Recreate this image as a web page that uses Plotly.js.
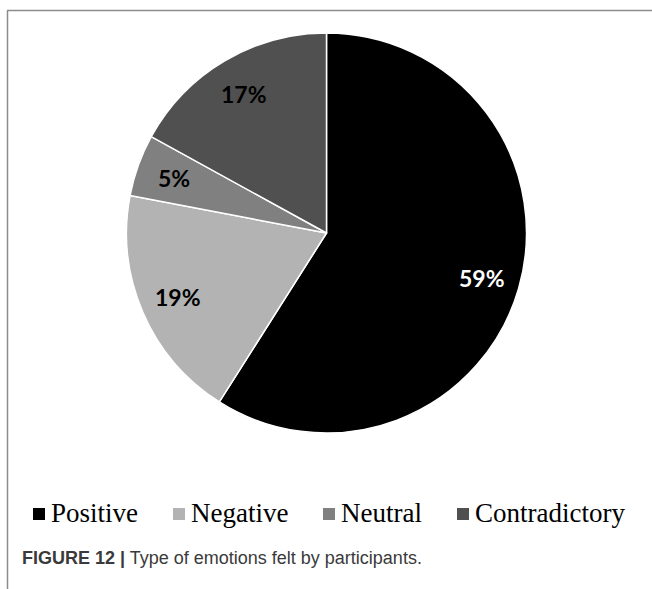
<!DOCTYPE html>
<html>
<head>
<meta charset="utf-8">
<script src="https://cdn.plot.ly/plotly-3.0.1.min.js"></script>
<style>
  html, body { margin: 0; padding: 0; background: #ffffff; }
  #chart { width: 652px; height: 589px; }
</style>
</head>
<body>
<div id="chart"></div>
<script>
// Types of emotion reported by participants (share of responses, %)
const emotions = ["Positive", "Negative", "Neutral", "Contradictory"];
const shares = [59, 19, 5, 17];
const sliceColors = ["#000000", "#b3b3b3", "#808080", "#505050"];
const labelColors = ["#ffffff", "#000000", "#000000", "#000000"];
const captionBold = "FIGURE 12 |";
const captionText = "Type of emotions felt by participants.";

const W = 652, H = 589;

// pie placement in pixels
const cx = 326.5, cy = 233, R = 200;

// legend row: left edge of each swatch, in pixels
const legendSwatchX = [33, 173, 323, 457];
const legendY = 514, swatch = 12;

const toPX = x => x / W;
const toPY = y => 1 - y / H;

const pie = {
  type: "pie",
  labels: emotions,
  values: shares,
  sort: false,
  direction: "clockwise",
  rotation: 0,
  marker: { colors: sliceColors, line: { color: "#ffffff", width: 1.5 } },
  textinfo: "none",
  hoverinfo: "label+percent",
  showlegend: false,
  domain: {
    x: [toPX(cx - R), toPX(cx + R)],
    y: [toPY(cy + R), toPY(cy - R)]
  }
};

// percentage labels on each slice's mid-angle, at ~81% of the radius
const total = shares.reduce((a, b) => a + b, 0);
let cum = 0;
const sliceLabels = shares.map((v, i) => {
  const mid = (cum + v / 2) / total * 2 * Math.PI;
  cum += v;
  return {
    xref: "paper", yref: "paper",
    x: toPX(cx + 0.81 * R * Math.sin(mid)),
    y: toPY(cy - 0.81 * R * Math.cos(mid)),
    xanchor: "center", yanchor: "middle", showarrow: false,
    text: v + "%",
    font: { family: "Lato", size: 23, weight: 700, color: labelColors[i] }
  };
});

// legend: colour swatch followed by the category name
const legendSwatches = emotions.map((name, i) => ({
  type: "rect", xref: "paper", yref: "paper",
  x0: toPX(legendSwatchX[i]), x1: toPX(legendSwatchX[i] + swatch),
  y0: toPY(legendY + swatch / 2), y1: toPY(legendY - swatch / 2),
  fillcolor: sliceColors[i], line: { width: 0 }
}));
const legendLabels = emotions.map((name, i) => ({
  xref: "paper", yref: "paper",
  x: toPX(legendSwatchX[i] + swatch + 4), y: toPY(legendY - 1),
  xanchor: "left", yanchor: "middle", showarrow: false,
  text: name,
  font: { family: "Liberation Serif", size: 27, color: "#000000" }
}));

const layout = {
  width: W,
  height: H,
  margin: { l: 0, r: 0, t: 0, b: 0 },
  paper_bgcolor: "#ffffff",
  showlegend: false,
  shapes: [
    // figure frame: top and left rules
    { type: "line", xref: "paper", yref: "paper", x0: toPX(7), x1: 1, y0: toPY(10.5), y1: toPY(10.5),
      line: { color: "#8c8c8c", width: 1.5 } },
    { type: "line", xref: "paper", yref: "paper", x0: toPX(7.5), x1: toPX(7.5), y0: 0, y1: toPY(10.5),
      line: { color: "#8c8c8c", width: 1.5 } }
  ].concat(legendSwatches),
  annotations: sliceLabels.concat(legendLabels, [
    {
      xref: "paper", yref: "paper", x: toPX(20), y: toPY(558),
      xanchor: "left", yanchor: "middle", showarrow: false,
      text: "<b>" + captionBold + "</b> " + captionText,
      font: { family: "Liberation Sans", size: 18, color: "#3a3a3a" }
    }
  ])
};

Plotly.newPlot("chart", [pie], layout, { displayModeBar: false, staticPlot: true });
</script>
</body>
</html>
